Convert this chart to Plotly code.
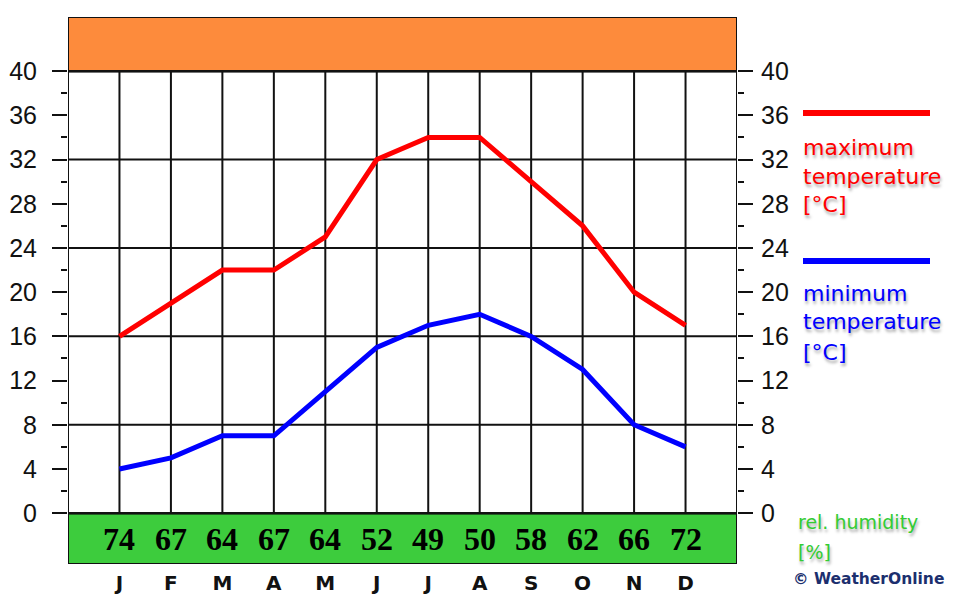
import plotly.graph_objects as go

months = ["J", "F", "M", "A", "M", "J", "J", "A", "S", "O", "N", "D"]
max_temp = [16, 19, 22, 22, 25, 32, 34, 34, 30, 26, 20, 17]
min_temp = [4, 5, 7, 7, 11, 15, 17, 18, 16, 13, 8, 6]
humidity = [74, 67, 64, 67, 64, 52, 49, 50, 58, 62, 66, 72]
y_ticks = list(range(0, 41, 4))
y_minor = list(range(2, 40, 4))
grid_y = list(range(0, 41, 8))

xs = list(range(len(months)))
X0, X1 = -1, len(months)
Y_LO, Y_HI = -4.6, 44.9

fig = go.Figure()
fig.add_trace(go.Scatter(x=xs, y=max_temp, mode="lines",
                         line=dict(color="#FF0000", width=5), hoverinfo="skip"))
fig.add_trace(go.Scatter(x=xs, y=min_temp, mode="lines",
                         line=dict(color="#0000FF", width=5), hoverinfo="skip"))
fig.add_trace(go.Scatter(x=[None], y=[None], yaxis="y2", showlegend=False))

shapes = []
shapes.append(dict(type="rect", xref="x", yref="y", x0=X0, x1=X1, y0=40, y1=Y_HI,
                   fillcolor="#FD8B3C", line=dict(color="#111111", width=2), layer="below"))
shapes.append(dict(type="rect", xref="x", yref="y", x0=X0, x1=X1, y0=Y_LO, y1=0,
                   fillcolor="#3DCC3D", line=dict(color="#111111", width=2), layer="below"))
for i in xs:
    shapes.append(dict(type="line", xref="x", yref="y", x0=i, x1=i, y0=0, y1=40,
                       line=dict(color="#111111", width=2), layer="below"))
for g in grid_y:
    shapes.append(dict(type="line", xref="x", yref="y", x0=X0, x1=X1, y0=g, y1=g,
                       line=dict(color="#111111", width=2), layer="below"))
shapes.append(dict(type="rect", xref="x", yref="y", x0=X0, x1=X1, y0=0, y1=40,
                   line=dict(color="#111111", width=2), layer="below"))

W = 669.0
H = 547.0
def px(p):
    return (p - 68) / W
def py(p):
    return (564 - p) / H

shapes.append(dict(type="line", xref="paper", yref="paper", x0=px(803), x1=px(930), y0=py(113), y1=py(113),
                   line=dict(color="#FF0000", width=6)))
shapes.append(dict(type="line", xref="paper", yref="paper", x0=px(803), x1=px(930), y0=py(261), y1=py(261),
                   line=dict(color="#0000FF", width=6)))

annotations = []
for i, h in enumerate(humidity):
    annotations.append(dict(x=i, y=Y_LO / 2, xref="x", yref="y", text=str(h), showarrow=False,
                            font=dict(family="Liberation Serif", size=32, color="black", weight="bold")))

shadow = "1px 3px 3px rgba(0,0,0,0.35)"
leg_font = "DejaVu Sans"

def leg_text(text, x, y, size, color, sh=True, weight="normal"):
    f = dict(family=leg_font, size=size, color=color, weight=weight)
    if sh:
        f["shadow"] = shadow
    annotations.append(dict(x=px(x), y=py(y), xref="paper", yref="paper", xanchor="left", yanchor="middle",
                            text=text, showarrow=False, align="left", font=f))

for t, yy in zip(["maximum", "temperature", "[°C]"], [147, 176, 205]):
    leg_text(t, 801, yy, 22, "#FF0000")
for t, yy in zip(["minimum", "temperature", "[°C]"], [294, 322, 352]):
    leg_text(t, 801, yy, 22, "#0000FF")
leg_text("rel. humidity", 796, 522, 19, "#33CC33")
leg_text("[%]", 796, 552, 19, "#33CC33")
leg_text("© WeatherOnline", 791, 579, 15.5, "#1C2F6E", sh=False, weight="bold")

yax_common = dict(range=[Y_LO, Y_HI], tickvals=y_ticks, ticktext=[str(v) for v in y_ticks],
                  ticks="outside", ticklen=15, tickwidth=2, tickcolor="#111111",
                  showgrid=False, zeroline=False, showline=False, automargin=False,
                  tickfont=dict(family="Liberation Sans", size=25, color="#111111"),
                  minor=dict(tickvals=y_minor, ticks="outside", ticklen=6, tickwidth=2,
                             tickcolor="#111111", showgrid=False))

fig.update_layout(
    width=955, height=586,
    margin=dict(l=60, r=226, t=9, b=30, autoexpand=False),
    plot_bgcolor="white", paper_bgcolor="white",
    showlegend=False,
    shapes=shapes, annotations=annotations,
    xaxis=dict(range=[X0, X1], tickvals=xs, ticktext=months, showgrid=False, zeroline=False,
               showline=False, ticks="", ticklabelstandoff=5, automargin=False,
               tickfont=dict(family="DejaVu Sans", size=20, color="#111111", weight="bold")),
    yaxis=dict(**yax_common, ticklabelstandoff=10),
    yaxis2=dict(**yax_common, overlaying="y", side="right", ticklabelstandoff=3),
)

fig.write_html("out.html")
